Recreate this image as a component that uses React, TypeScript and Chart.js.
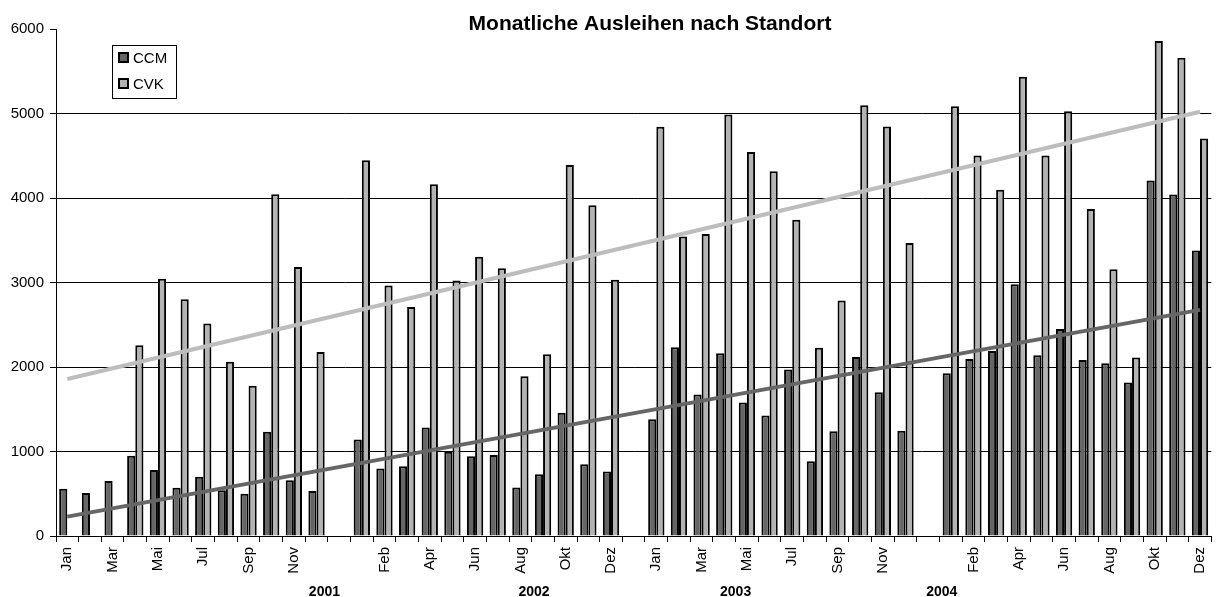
import React, { useEffect, useRef } from 'react';
import { Chart, registerables } from 'chart.js';

Chart.register(...registerables);

const titleText = 'Monatliche Ausleihen nach Standort';
const months = ['Jan', 'Feb', 'Mar', 'Apr', 'Mai', 'Jun', 'Jul', 'Aug', 'Sep', 'Okt', 'Nov', 'Dez'];
const years = ['2001', '2002', '2003', '2004'];

const ccm2001 = [560, 510, 650, 950, 780, 570, 700, 540, 500, 1235, 660, 534];
const cvk2001 = [null, null, null, 2257, 3043, 2802, 2514, 2063, 1779, 4043, 3182, 2178];
const ccm2002 = [1142, 798, 826, 1285, 996, 945, 960, 573, 731, 1458, 850, 763];
const cvk2002 = [4447, 2964, 2711, 4162, 3024, 3304, 3170, 1890, 2150, 4391, 3913, 3032];
const ccm2003 = [1383, 2233, 1676, 2162, 1581, 1425, 1970, 885, 1241, 2119, 1700, 1245];
const cvk2003 = [4842, 3545, 3573, 4988, 4545, 4316, 3743, 2229, 2787, 5099, 4846, 3466];
const ccm2004 = [1925, 2095, 2190, 2980, 2138, 2451, 2083, 2043, 1818, 4206, 4040, 3379];
const cvk2004 = [5087, 4504, 4099, 5435, 4502, 5028, 3870, 3158, 2111, 5858, 5660, 4704];

// linear trend lines (start / end values)
const ccmTrendEnds = [229, 2676];
const cvkTrendEnds = [1858, 5020];

const ccmYears = [ccm2001, ccm2002, ccm2003, ccm2004];
const cvkYears = [cvk2001, cvk2002, cvk2003, cvk2004];

// categories: 12 months per year, with one blank category between years
const categories: string[] = [];
const ccmData: (number | null)[] = [];
const cvkData: (number | null)[] = [];
years.forEach((y, yi) => {
  months.forEach((m, mi) => {
    categories.push(m);
    ccmData.push(ccmYears[yi][mi]);
    cvkData.push(cvkYears[yi][mi]);
  });
  if (yi < years.length - 1) {
    categories.push('');
    ccmData.push(null);
    cvkData.push(null);
  }
});
const yearSlot = [11.85, 21.1, 30.0, 39.1];

function trendSeries(ends: number[]) {
  const arr: (number | null)[] = categories.map(() => null);
  arr[0] = ends[0];
  arr[arr.length - 1] = ends[1];
  return arr;
}

const FONT = '"Liberation Sans", Arial, sans-serif';

const decorPlugin = {
  id: 'decor',
  afterDraw(chart: any) {
    const ctx = chart.ctx as CanvasRenderingContext2D;
    const area = chart.chartArea;
    ctx.save();
    // title
    ctx.fillStyle = '#000';
    ctx.font = `bold 21px ${FONT}`;
    ctx.textAlign = 'center';
    ctx.textBaseline = 'alphabetic';
    ctx.fillText(titleText, 650, 30);

    // year labels
    const xs = chart.scales.x;
    const step = (area.right - area.left) / categories.length;
    ctx.font = `bold 14px ${FONT}`;
    years.forEach((y, i) => {
      ctx.fillText(y, xs.left + yearSlot[i] * step, 596);
    });

    // legend
    const lx = 112.5, ly = 45.5, lw = 64, lh = 53;
    ctx.fillStyle = '#fff';
    ctx.fillRect(lx, ly, lw, lh);
    ctx.strokeStyle = '#000';
    ctx.lineWidth = 1;
    ctx.strokeRect(lx, ly, lw, lh);
    const bars = chart.data.datasets.filter((d: any) => d.type === 'bar');
    bars.forEach((d: any, i: number) => {
      const sy = 52 + i * 26;
      ctx.fillStyle = d.backgroundColor;
      ctx.fillRect(118, sy, 11, 11);
      ctx.strokeStyle = '#000';
      ctx.lineWidth = 2;
      ctx.strokeRect(119, sy + 1, 9, 9);
      ctx.fillStyle = '#000';
      ctx.font = `15px ${FONT}`;
      ctx.textAlign = 'left';
      ctx.textBaseline = 'middle';
      ctx.fillText(d.label, 133, sy + 6.5);
    });
    ctx.restore();
  },
};

export default function App() {
  const ref = useRef<HTMLCanvasElement>(null);
  useEffect(() => {
    document.body.style.margin = '0';
    Chart.defaults.font.family = FONT;
    const chart = new Chart(ref.current as HTMLCanvasElement, {
      type: 'bar',
      data: {
        labels: categories,
        datasets: [
          {
            type: 'line',
            label: 'Trend CCM',
            data: trendSeries(ccmTrendEnds),
            borderColor: '#666666',
            borderWidth: 4,
            pointRadius: 0,
            spanGaps: true,
            fill: false,
            order: 1,
          } as any,
          {
            type: 'line',
            label: 'Trend CVK',
            data: trendSeries(cvkTrendEnds),
            borderColor: '#bdbdbd',
            borderWidth: 4,
            pointRadius: 0,
            spanGaps: true,
            fill: false,
            order: 1,
          } as any,
          {
            type: 'bar',
            label: 'CCM',
            data: ccmData,
            backgroundColor: '#666666',
            borderColor: '#000000',
            borderWidth: 2,
            categoryPercentage: 0.72,
            barPercentage: 1.0,
            order: 2,
          } as any,
          {
            type: 'bar',
            label: 'CVK',
            data: cvkData,
            backgroundColor: '#b3b3b3',
            borderColor: '#000000',
            borderWidth: 2,
            categoryPercentage: 0.72,
            barPercentage: 1.0,
            order: 2,
          } as any,
        ],
      },
      options: {
        responsive: false,
        animation: false,
        devicePixelRatio: 1,
        layout: { padding: { top: 29, left: 0, right: 0, bottom: 0 } },
        plugins: {
          legend: { display: false },
          title: { display: false },
          tooltip: { enabled: false },
        },
        scales: {
          x: {
            type: 'category',
            offset: true,
            grid: {
              offset: true,
              drawOnChartArea: false,
              drawTicks: true,
              tickLength: 6,
              color: '#000',
              tickColor: '#000',
              lineWidth: 1,
            },
            border: { display: true, color: '#000', width: 1 },
            ticks: {
              autoSkip: false,
              maxRotation: 90,
              minRotation: 90,
              padding: 5,
              color: '#000',
              font: { size: 15, family: FONT },
              callback: (_v: any, i: number) => (i % 2 === 0 ? categories[i] : ''),
            },
            afterFit: (s: any) => {
              s.height = 61;
            },
          },
          y: {
            min: 0,
            max: 6000,
            ticks: {
              stepSize: 1000,
              color: '#000',
              font: { size: 15, family: FONT },
              padding: 6,
              callback: (v: any) => String(v),
            },
            grid: {
              color: (c: any) => (c.tick && c.tick.value === 6000 ? 'rgba(0,0,0,0)' : '#000'),
              tickColor: '#000',
              tickLength: 6,
              lineWidth: 1,
            },
            border: { display: true, color: '#000', width: 1 },
            afterFit: (s: any) => {
              s.width = 56;
            },
          },
        },
      } as any,
      plugins: [decorPlugin],
    });
    return () => chart.destroy();
  }, []);
  return (
    <div style={{ width: 1223, height: 597, overflow: 'hidden' }}>
      <canvas ref={ref} width={1223} height={597} style={{ display: 'block' }} />
    </div>
  );
}
